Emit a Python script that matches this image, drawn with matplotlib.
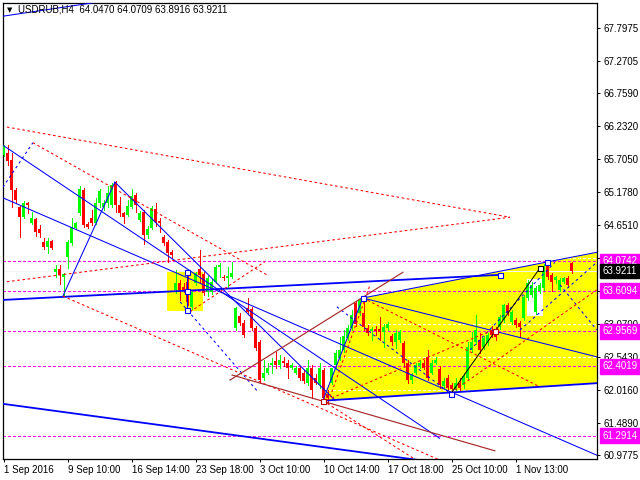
import numpy as np
import matplotlib
matplotlib.use("Agg")
import matplotlib.pyplot as plt
from matplotlib.patches import Polygon, Rectangle

# ---------------- data (USDRUB H4) ----------------
opens = [65.78,65.81,65.70,65.22,64.94,64.78,65.01,64.69,64.75,64.59,
         64.38,64.30,64.40,63.90,63.95,63.82,64.14,64.37,64.61,64.85,
         65.22,64.67,64.77,64.69,65.01,64.94,65.01,64.98,65.34,64.98,
         64.85,64.82,64.94,65.14,64.74,64.86,64.50,64.61,64.91,64.72,
         64.46,64.38,64.22,63.62,63.73,63.66,63.74,63.34,63.73,63.95,
         63.87,63.58,63.58,63.74,63.98,63.82,63.81,63.82,63.01,63.20,
         63.09,63.33,63.31,63.01,62.78,62.21,62.30,62.42,62.48,62.42,
         62.48,62.45,62.38,62.30,62.37,62.29,62.13,62.38,62.22,62.10,
         62.34,61.95,62.14,62.42,62.53,62.66,62.85,63.01,63.41,63.25,
         63.25,63.01,62.96,62.99,62.99,62.94,63.01,62.88,62.78,62.82,
         62.77,62.45,62.18,62.30,62.40,62.45,62.54,62.30,62.45,62.35,
         62.08,62.21,62.10,62.03,62.14,62.10,62.21,62.66,62.78,62.82,
         62.70,62.77,62.98,62.99,63.02,63.14,63.38,63.10,63.14,63.09,
         63.17,63.49,63.54,63.26,63.60,63.65,64.03,63.86,63.78,63.62,
         63.74,63.81,64.0470]
highs = [65.94,65.94,65.81,65.25,64.98,65.04,65.02,64.86,64.77,64.66,
         64.45,64.45,64.42,64.02,64.02,63.89,64.42,64.77,64.70,65.28,
         65.25,64.70,64.90,65.09,65.23,65.06,65.28,65.33,65.36,65.10,
         64.86,65.06,65.23,65.17,64.88,64.90,64.64,64.96,65.01,64.77,
         64.50,64.42,64.26,63.94,63.78,63.73,63.86,63.62,63.90,64.26,
         63.90,63.84,63.80,64.02,64.05,63.86,63.98,64.06,63.34,63.25,
         63.14,63.49,63.34,63.04,62.82,62.50,62.46,62.53,62.62,62.58,
         62.54,62.50,62.46,62.40,62.40,62.34,62.50,62.42,62.27,62.45,
         62.38,62.02,62.37,62.66,62.86,62.98,63.06,63.30,63.44,63.47,
         63.49,63.06,63.02,63.04,63.18,63.07,63.10,62.91,62.98,62.98,
         62.80,62.50,62.30,62.45,62.50,62.50,62.66,62.50,62.54,62.40,
         62.21,62.26,62.13,62.21,62.21,62.30,62.78,62.94,63.22,62.93,
         62.88,62.93,63.04,63.02,63.22,63.39,63.41,63.30,63.17,63.12,
         63.54,63.78,63.74,63.68,63.73,64.03,64.06,63.89,63.84,63.81,
         63.82,63.84,64.0709]
lows = [65.75,65.62,64.94,65.01,64.46,64.77,64.85,64.67,64.48,64.46,
        64.27,64.21,64.27,63.82,63.71,63.52,63.97,64.34,64.59,64.82,
        64.62,64.61,64.66,64.67,64.94,64.90,64.94,64.94,64.86,64.80,
        64.69,64.80,64.93,64.86,64.72,64.35,64.45,64.59,64.64,64.54,
        64.34,64.06,64.13,63.57,63.46,63.58,63.38,63.31,63.70,63.73,
        63.54,63.52,63.55,63.73,63.82,63.78,63.65,63.81,62.98,63.06,
        62.86,63.23,62.98,62.66,62.14,62.18,62.27,62.29,62.37,62.38,
        62.40,62.21,62.35,62.27,62.18,62.13,62.10,61.90,62.11,62.06,
        61.79,61.81,62.11,62.38,62.50,62.62,62.82,62.98,63.04,63.22,
        62.98,62.90,62.82,62.90,62.82,62.70,62.98,62.74,62.69,62.78,
        62.42,62.14,62.14,62.27,62.37,62.35,62.18,62.27,62.43,62.06,
        62.05,62.02,61.95,62.02,62.02,62.06,62.18,62.62,62.75,62.61,
        62.67,62.74,62.86,62.82,62.99,63.10,63.22,63.07,63.02,62.86,
        63.14,63.46,63.50,63.23,63.57,63.62,63.79,63.60,63.73,63.60,
        63.73,63.66,63.8916]
closes = [65.91,65.68,65.22,65.06,64.78,65.01,64.98,64.77,64.54,64.53,
          64.30,64.40,64.29,63.95,63.86,63.87,64.38,64.62,64.69,65.23,
          64.66,64.62,64.69,65.01,65.20,65.01,65.17,65.30,64.98,64.85,
          64.78,64.96,65.12,64.98,64.85,64.50,64.59,64.93,64.70,64.69,
          64.37,64.21,64.18,63.73,63.62,63.62,63.42,63.58,63.89,63.86,
          63.57,63.81,63.74,63.98,64.02,63.81,63.84,63.89,63.33,63.09,
          62.90,63.26,63.01,62.69,62.18,62.30,62.37,62.46,62.42,62.50,
          62.45,62.38,62.42,62.37,62.22,62.16,62.38,62.02,62.14,62.38,
          61.90,61.89,62.37,62.61,62.66,62.88,63.01,63.22,63.07,63.46,
          63.02,62.93,62.99,62.96,62.94,63.02,63.07,62.78,62.93,62.94,
          62.45,62.18,62.26,62.42,62.45,62.38,62.22,62.46,62.50,62.10,
          62.16,62.06,62.03,62.14,62.06,62.24,62.70,62.78,62.98,62.66,
          62.85,62.90,62.90,62.86,63.18,63.38,63.25,63.26,63.06,63.02,
          63.50,63.73,63.70,63.65,63.70,64.00,63.82,63.74,63.82,63.78,
          63.81,63.70,63.9211]

tick_idx = [0, 16, 32, 48, 64, 80, 96, 112, 128]
tick_lbl = ["1 Sep 2016", "9 Sep 10:00", "16 Sep 14:00", "23 Sep 18:00",
            "3 Oct 10:00", "10 Oct 14:00", "17 Oct 18:00", "25 Oct 10:00",
            "1 Nov 13:00"]
price_ticks = [67.7975, 67.2705, 66.7590, 66.2320, 65.7050, 65.1780, 64.6510,
               64.1240, 63.5970, 63.0700, 62.5430, 62.0160, 61.4890, 60.9775]
hidden_ticks = [64.1240, 63.5970]   # covered by the level labels in the reference
levels = [64.0742, 63.6094, 62.9569, 62.4019, 61.2914]
last_price = 63.9211

# drawn objects: (index, price) anchors
blue_lines = [((-0.2, 67.99), (24, 68.22)),
              ((0, 63.46), (124.1, 63.86)),
              ((-0.2, 61.80), (104, 60.90)),
              ((14.8, 63.52), (27.8, 65.34)),
              ((27.8, 65.34), (82.8, 61.86)),
              ((-0.2, 65.09), (148.3, 60.98)),
              ((-0.2, 65.93), (109, 61.25)),
              ((89.8, 63.49), (148.3, 62.55)),
              ((89.8, 63.49), (148.3, 64.22)),
              ((79.8, 61.85), (148.3, 62.13)),
              ((79.8, 61.85), (89.8, 63.49)),
              ((45.8, 63.90), (45.8, 63.30))]
thick_blue = [1, 2, 9]
blue_dashed = [((-0.2, 65.26), (7.3, 65.97)),
               ((44.1, 63.43), (63.6, 61.99)),
               ((83.3, 63.35), (111.8, 61.96)),
               ((116.6, 62.66), (137.8, 64.06)),
               ((129.1, 62.98), (148.3, 64.06)),
               ((139.1, 63.70), (148.3, 62.98))]
red_dashed = [((0.8, 66.22), (126.6, 64.78)),
              ((0.8, 63.75), (126.6, 64.78)),
              ((7.3, 65.97), (65.8, 63.86)),
              ((14.8, 63.52), (109.1, 60.90)),
              ((46.6, 63.27), (65.3, 64.07)),
              ((79.8, 61.85), (109.1, 60.66)),
              ((80.8, 61.86), (122.3, 62.98)),
              ((81.6, 61.91), (91.6, 63.70)),
              ((89.8, 63.49), (134.1, 62.07)),
              ((112.8, 62.02), (148.3, 63.62))]
brown_lines = [((56.6, 62.18), (99.8, 63.90)),
               ((57.1, 62.26), (122.8, 61.05))]
yellow_poly = [(79.8, 61.85), (89.8, 63.49), (148.3, 64.22), (148.3, 62.13)]
yellow_rect = (40.8, 63.28, 9.0, 0.62)
white_rect = (130.8, 63.20, 4.0, 0.59)
box_blue = [(45.8, 63.90), (45.8, 63.60), (45.8, 63.30), (89.8, 63.49),
            (111.8, 61.96), (124.1, 63.86), (135.8, 64.06)]
box_black = [(134.1, 63.97)]
box_red = [(122.8, 62.96), (79.8, 61.85)]

# ---------------- drawing ----------------
FONT = "Liberation Sans"
THIN = 0.7
fig = plt.figure(figsize=(6.4, 4.8), dpi=100)
ax = fig.add_axes([3/640, 1 - 459/480, 594/640, 456/480])
ax.set_xlim(-0.175, 148.35)
ax.set_ylim(60.919, 68.201)

# background objects
ax.add_patch(Polygon(yellow_poly, closed=True, fc="#FFFF00", ec="none", zorder=1))
ax.add_patch(Rectangle(yellow_rect[:2], yellow_rect[2], yellow_rect[3],
                       fc="#FFFF00", ec="none", zorder=1))
ax.add_patch(Rectangle(white_rect[:2], white_rect[2], white_rect[3],
                       fc="white", ec="none", zorder=1.1))

# grid (white dashed)
for p in price_ticks:
    ax.axhline(p, color="white", lw=THIN, dashes=(2.2, 2.2), zorder=1.5,
               antialiased=False)
ax.axhline(last_price, color="#F4F4F4", lw=THIN, zorder=1.6, antialiased=False)

# level lines
for lv in levels:
    ax.axhline(lv, color="#FF00FF", lw=THIN, dashes=(2.2, 2.2), zorder=2,
               antialiased=False)

# candles
o = np.array(opens); h = np.array(highs); l = np.array(lows); c = np.array(closes)
x = np.arange(len(o))
col = np.where(c >= o, "#00FF00", "#FF0000")
ax.vlines(x, l, h, colors=col, lw=THIN, zorder=3, antialiased=False)
body = np.maximum(np.abs(c - o), 0.014)
ax.bar(x, body, bottom=np.minimum(o, c), width=0.78, color=col,
       edgecolor="none", zorder=3.1, antialiased=False)

# trend lines (anti-aliased, thin)
for k, (a, b) in enumerate(blue_lines):
    ax.plot([a[0], b[0]], [a[1], b[1]], color="#0000FF",
            lw=1.3 if k in thick_blue else 0.75, zorder=4)
for a, b in blue_dashed:
    ax.plot([a[0], b[0]], [a[1], b[1]], color="#0000FF", lw=0.75,
            dashes=(2.5, 3), zorder=4)
for a, b in red_dashed:
    ax.plot([a[0], b[0]], [a[1], b[1]], color="#FF0000", lw=0.75,
            dashes=(2.5, 2.5), zorder=4)
for a, b in brown_lines:
    ax.plot([a[0], b[0]], [a[1], b[1]], color="#A52A2A", lw=0.85, zorder=4)
ax.plot([111.8, 134.1], [61.96, 63.97], color="black", lw=0.7, zorder=4)

for pts, ec in ((box_blue, "#0000FF"), (box_black, "black"), (box_red, "#C00000")):
    xs, ys = zip(*pts)
    ax.plot(xs, ys, ls="none", marker="s", ms=3.6, mfc="white", mec=ec,
            mew=0.8, zorder=5)

# axes styling
for s in ax.spines.values():
    s.set_color("black"); s.set_linewidth(0.9)
ax.yaxis.tick_right()
ax.set_yticks(price_ticks)
ax.set_yticklabels(["" if p in hidden_ticks else f"{p:.4f}" for p in price_ticks])
ax.tick_params(axis="y", direction="out", length=2.5, width=0.7, pad=2,
               labelsize=7, labelfontfamily=FONT)
ax.set_xticks(tick_idx)
ax.set_xticklabels(tick_lbl)
ax.tick_params(axis="x", direction="out", length=2.5, width=0.7, pad=1.5,
               labelsize=7, labelfontfamily=FONT)
for t in ax.get_xticklabels():
    t.set_ha("left")

# price label boxes
ytr = ax.get_yaxis_transform()
for lv in levels:
    ax.text(1 + 5.5/594, lv, f"{lv:.4f}", transform=ytr, ha="left", va="center",
            fontsize=7, family=FONT, color="white", clip_on=False, zorder=20,
            bbox=dict(boxstyle="square,pad=0.25", fc="#FF00FF", ec="#FF00FF"))
ax.text(1 + 5.5/594, last_price, f"{last_price:.4f}", transform=ytr, ha="left",
        va="center", fontsize=7, family=FONT, color="white", clip_on=False,
        zorder=21, bbox=dict(boxstyle="square,pad=0.25", fc="black", ec="black"))

# header
fig.text(7/640, 1 - 10/480, "\u25BC", fontsize=5, family="DejaVu Sans",
         va="center", ha="left", color="black")
fig.text(18/640, 1 - 10/480,
         f"USDRUB,H4  {opens[-1]:.4f} {highs[-1]:.4f} {lows[-1]:.4f} {closes[-1]:.4f}",
         fontsize=7, family=FONT, va="center", ha="left", color="black")

fig.savefig("out.png", dpi=100)
